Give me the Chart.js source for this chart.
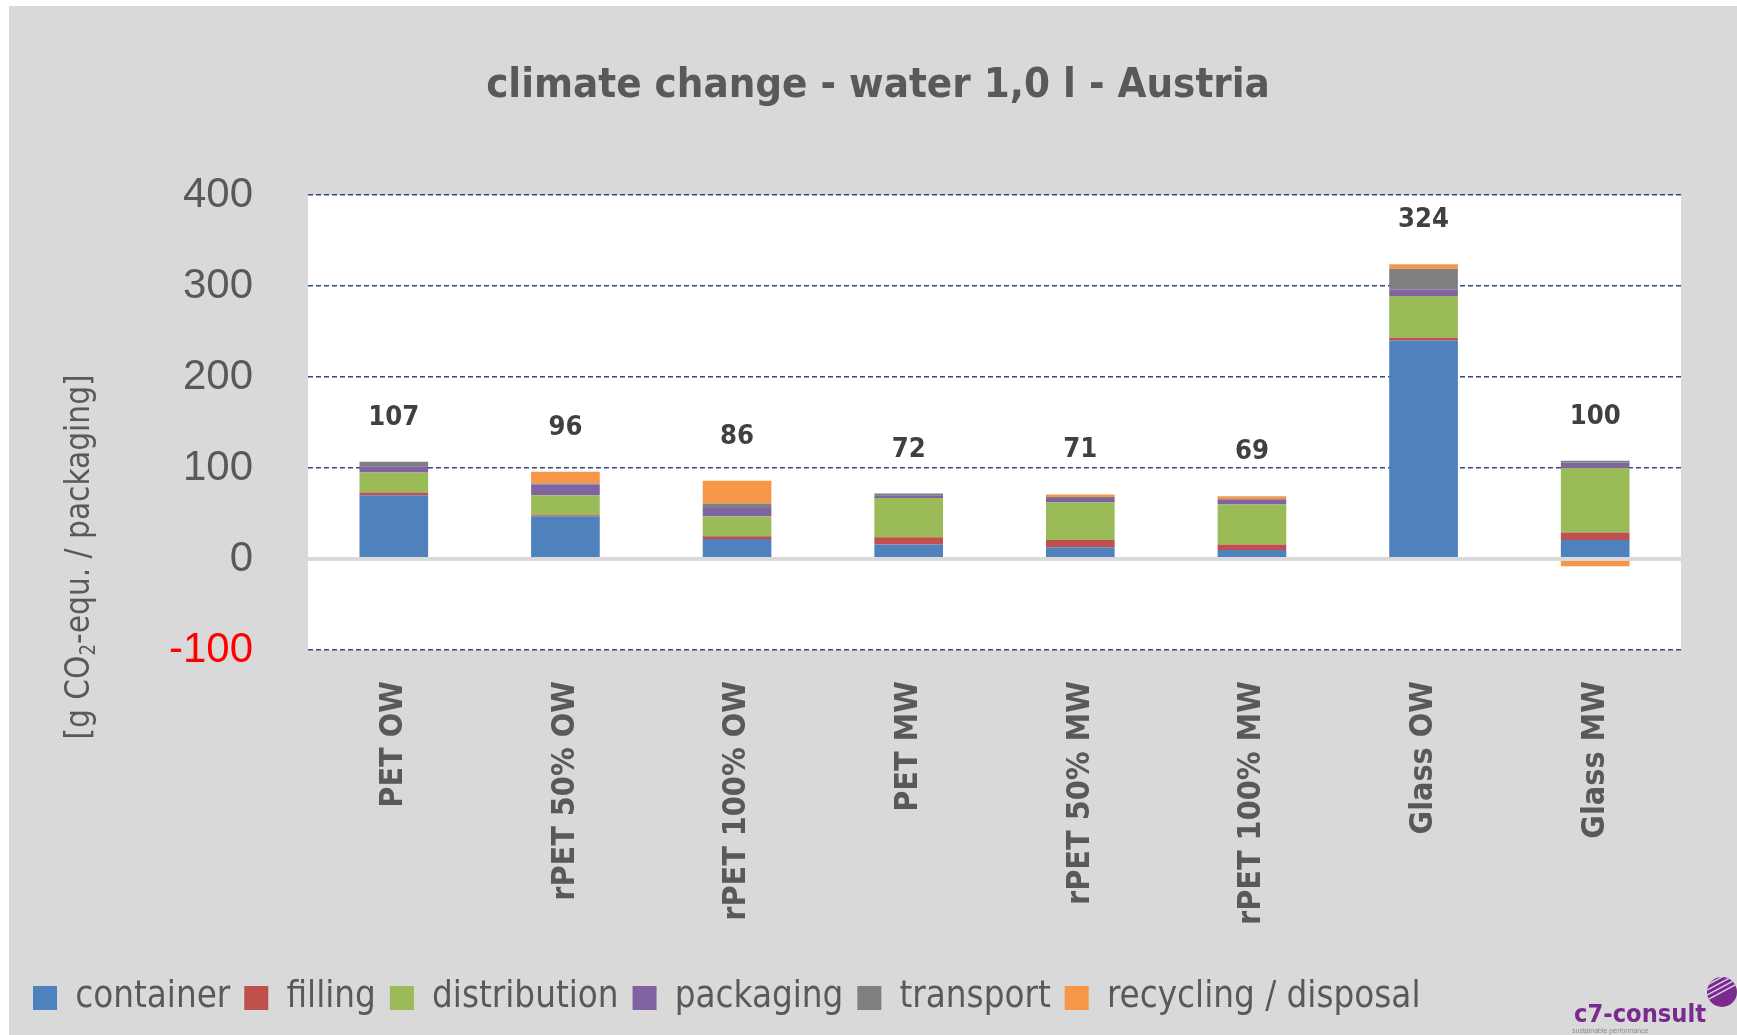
<!DOCTYPE html>
<html><head><meta charset="utf-8">
<script src="https://cdn.jsdelivr.net/npm/chart.js@4/dist/chart.umd.min.js"></script>
<style>
html,body{margin:0;padding:0;background:#fff;}
#wrap{position:absolute;left:9px;top:6px;width:1728px;height:1029px;background:#d9d9d9;}
canvas{display:block;}
</style></head><body>
<div id="wrap"><canvas id="c" width="1728" height="1029"></canvas></div>
<script>
// ---------- data ----------
const categories = ['PET OW','rPET 50% OW','rPET 100% OW','PET MW','rPET 50% MW','rPET 100% MW','Glass OW','Glass MW'];
const container    = [70, 47, 22, 16, 13, 10, 240, 21];
const filling      = [ 3,  1,  3,  8,  8,  6,   3,  8];
const distribution = [22, 22, 22, 43, 41, 44,  46, 71];
const packaging    = [ 7, 12,  9,  3,  5,  5,   7,  6];
const transport    = [ 5,  1,  5,  2,  1,  1,  23,  2];
const recycling    = [ 0, 13, 25,  0,  3,  3,   5, -8];
const totals       = [107, 96, 86, 72, 71, 69, 324, 100];
const seriesNames  = ['container','filling','distribution','packaging','transport','recycling / disposal'];
const yMin = -100, yMax = 400, yStep = 100;
const titleText = 'climate change - water 1,0 l - Austria';

// ---------- style ----------
const NARROW = "'Liberation Sans Narrow','DejaVu Sans Condensed','Arial Narrow',sans-serif";
const SANS = "'Liberation Sans',Arial,sans-serif";
const colors = ['#4f81bd','#c0504d','#9bbb59','#8064a2','#7f7f7f','#f79646'];
const W = 1728, H = 1029;

const mctx = document.createElement('canvas').getContext('2d');
function tw(text, weight, size, fam){ mctx.font = weight+' '+size+'px '+fam; return mctx.measureText(text).width; }
function fit(text, weight, target, fam){ return 100*target/tw(text, weight, 100, fam); }

const titleSize = Math.min(56, fit(titleText,'bold',784,NARROW));
const xTickSize = Math.min(44, fit('rPET 100% MW','bold',244,NARROW));
const labelSize = Math.min(40, fit('107','bold',51,NARROW));
// legend: total width 1388 from first box to last text end
const boxW = 24, legPad = 14;
let sumTw = 0; seriesNames.forEach(n => sumTw += tw(n,'normal',1,NARROW));
const legendSize = Math.min(44, (1388 - 6*boxW - 5*legPad) / (3 + sumTw));

// layout targets (chart coords)
const areaTop = 189, areaBottom = 644, areaLeft = 299, areaRight = 1672;
const legendCenter = 992;
const padLeft = 10;
const legendItemH = Math.max(legendSize, boxW);
const legendBottom = legendCenter + legendItemH/2 + 10;
const legendTop = legendBottom - (legendItemH + legPad + 10);
const titleLH = titleSize*1.2;
const titlePadTop = 80 - titleLH/2;
const titlePadBottom = areaTop - titlePadTop - titleLH;

const seriesData = [container, filling, distribution, packaging, transport, recycling];

const bgPlugin = {
  id:'plotBg',
  beforeDraw(chart){
    const a = chart.chartArea, c = chart.ctx;
    c.save(); c.fillStyle = '#ffffff'; c.fillRect(a.left, a.top, a.right-a.left, a.bottom-a.top); c.restore();
  }
};

const labelPlugin = {
  id:'totLabels',
  afterDatasetsDraw(chart){
    const c = chart.ctx, ys = chart.scales.y, xs = chart.scales.x;
    c.save();
    c.font = 'bold '+labelSize+'px '+NARROW;
    c.fillStyle = '#404040'; c.textAlign = 'center'; c.textBaseline = 'middle';
    categories.forEach((cat,i) => {
      let pos = 0; seriesData.forEach(s => { if (s[i] > 0) pos += s[i]; });
      const x = xs.getPixelForValue(i);
      const y = ys.getPixelForValue(pos) - 44;
      c.fillText(String(totals[i]), x, y);
    });
    c.restore();
  }
};

const axisTitlePlugin = {
  id:'yTitle',
  afterDraw(chart){
    const c = chart.ctx, a = chart.chartArea;
    const size = 33;
    const p1 = '[g CO', p2 = '2', p3 = '-equ. / packaging]';
    c.save();
    c.fillStyle = '#595959';
    c.textBaseline = 'middle';
    c.textAlign = 'left';
    c.translate(a.left - 228, a.bottom - 93);
    c.rotate(-Math.PI/2);
    c.font = size+'px '+NARROW; const w1 = c.measureText(p1).width, w3 = c.measureText(p3).width;
    c.font = (size*0.62)+'px '+NARROW; const w2 = c.measureText(p2).width;
    const total = w1+w2+w3;
    let x = -total/2;
    c.font = size+'px '+NARROW; c.fillText(p1, x, 0); x += w1;
    c.font = (size*0.62)+'px '+NARROW; c.fillText(p2, x, size*0.28); x += w2;
    c.font = size+'px '+NARROW; c.fillText(p3, x, 0);
    c.restore();
  }
};

const logoPlugin = {
  id:'logo',
  afterDraw(chart){
    const c = chart.ctx;
    c.save();
    const s = Math.min(34, fit('c7-consult','bold',132,NARROW));
    c.font = 'bold '+s+'px '+NARROW;
    c.fillStyle = '#7a2a8e';
    c.textAlign = 'right'; c.textBaseline = 'alphabetic';
    c.fillText('c7-consult', W - 31, 1016);
    c.font = '7px '+SANS; c.fillStyle = '#8a8a8a'; c.textAlign = 'left';
    c.fillText('sustainable performance', W - 165, 1027);
    // emblem
    const cx = W - 15, cy = 986, r = 15;
    c.beginPath(); c.arc(cx, cy, r, 0, Math.PI*2); c.closePath();
    c.fillStyle = '#7a2a8e'; c.fill();
    c.clip();
    c.strokeStyle = 'rgba(255,255,255,0.75)'; c.lineWidth = 1.5;
    for (let k=-3;k<=0;k++){ c.beginPath(); c.moveTo(cx-r, cy+k*5+8); c.lineTo(cx+r, cy+k*5-8); c.stroke(); }
    c.restore();
  }
};

new Chart(document.getElementById('c'), {
  type:'bar',
  data:{
    labels: categories,
    datasets: seriesNames.map((n,i) => ({
      label: n, data: seriesData[i], backgroundColor: colors[i], borderWidth: 0,
      barPercentage: 0.40, categoryPercentage: 1.0
    }))
  },
  plugins:[bgPlugin, labelPlugin, axisTitlePlugin, logoPlugin],
  options:{
    responsive:false, animation:false, devicePixelRatio:1,
    layout:{ padding:{ left:padLeft, right:0, top:0, bottom: H - legendBottom } },
    plugins:{
      title:{ display:true, text:titleText, color:'#595959',
        font:{ family:NARROW, size:titleSize, weight:'bold', lineHeight:1.2 },
        padding:{ top:titlePadTop, bottom:titlePadBottom } },
      legend:{ display:true, position:'bottom', align:'start',
        labels:{ boxWidth:boxW, boxHeight:boxW, padding:legPad, color:'#595959',
          font:{ family:NARROW, size:legendSize } } },
      tooltip:{ enabled:false }
    },
    scales:{
      x:{ stacked:true,
        grid:{ display:false }, border:{ display:false },
        ticks:{ autoSkip:false, minRotation:90, maxRotation:90, padding:23, color:'#595959',
          font:{ family:NARROW, size:xTickSize, weight:'bold' } },
        afterFit(s){ s.height = legendTop - areaBottom; }
      },
      y:{ stacked:true, min:yMin, max:yMax,
        afterBuildTicks(s){ s.ticks = yTicks().map(v => ({value:v})); },
        grid:{ drawTicks:false,
          color: ctx => ctx.tick && ctx.tick.value === 0 ? '#d9d9d9' : '#2f4b7c',
          lineWidth: ctx => ctx.tick && ctx.tick.value === 0 ? 4 : 1.6 },
        border:{ display:false, dash: ctx => (ctx.tick && ctx.tick.value === 0) ? [] : [5,3] },
        ticks:{ padding:55, color: ctx => ctx.tick.value < 0 ? '#ff0000' : '#595959',
          font:{ family:SANS, size:42 } },
        afterFit(s){ s.width = areaLeft - padLeft; }
      },
      yRight:{ position:'right', display:true, min:0, max:1,
        grid:{ display:false, drawOnChartArea:false }, border:{ display:false },
        ticks:{ display:false },
        afterFit(s){ s.width = W - areaRight; }
      }
    }
  }
});
function yTicks(){ const t=[]; for(let v=yMin; v<=yMax; v+=yStep) t.push(v); return t; }
</script>
</body></html>
